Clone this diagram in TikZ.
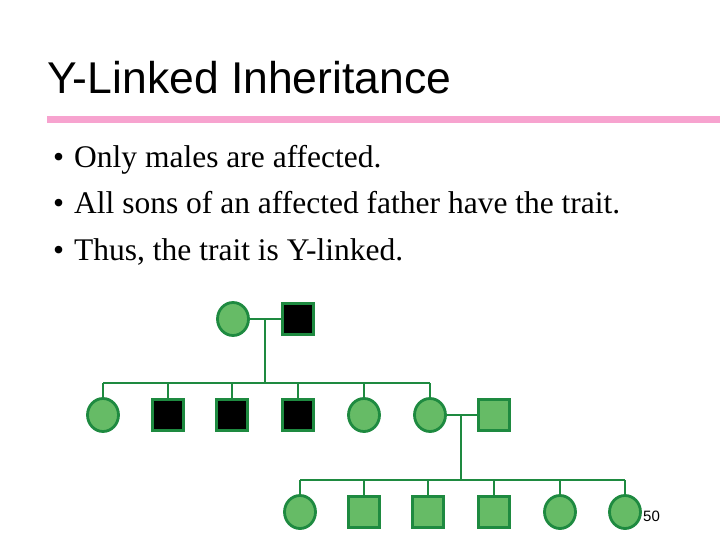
\documentclass[tikz,border=0pt]{standalone}
\usepackage{fontspec}
\setmainfont{Liberation Serif}
\newfontfamily\titlefont{Liberation Sans}
\usetikzlibrary{shapes.geometric}
\begin{document}
\begin{tikzpicture}[x=1pt,y=-1pt,
  every node/.style={inner sep=0pt},
  fem/.style={ellipse,draw=pedline,fill=pedfill,line width=2.8pt,minimum width=31pt,minimum height=33pt},
  mal/.style={rectangle,draw=pedline,fill=pedfill,line width=2.8pt,minimum size=31pt},
  aff/.style={rectangle,draw=pedline,fill=black,line width=2.8pt,minimum size=31pt},
  link/.style={draw=pedline,line width=2.6pt},
  bul/.style={anchor=base west,font=\fontsize{31.5}{34}\selectfont}]
\definecolor{pedfill}{HTML}{66BB66}
\definecolor{pedline}{HTML}{1E8A40}
\definecolor{pinkbar}{HTML}{F7A3CF}
\useasboundingbox (0,0) rectangle (720,540);
\node[anchor=base west,font=\titlefont\fontsize{44.5}{48}\selectfont] (title) at (47,94) {Y-Linked Inheritance};
\fill[pinkbar] (47,116) rectangle (720,123);
\node[bul] (b1) at (53,168) {•\hspace{10pt}Only males are affected.};
\node[bul] (b2) at (53,214) {•\hspace{10pt}All sons of an affected father have the trait.};
\node[bul] (b3) at (53,260) {•\hspace{10pt}Thus, the trait is Y-linked.};
% generation I
\node[fem] (m1) at (233,319) {};
\node[aff] (f1) at (298,319) {};
\coordinate (c1) at (265,319);
\coordinate (j1) at (265,383);
% generation II
\node[fem] (a1) at (103,415) {};
\node[aff] (a2) at (168,415) {};
\node[aff] (a3) at (232,415) {};
\node[aff] (a4) at (298,415) {};
\node[fem] (a5) at (364,415) {};
\node[fem] (a6) at (430,415) {};
\node[mal] (h2) at (494,415) {};
\coordinate (c2) at (461,415);
\coordinate (j2) at (461,480);
% generation III
\node[fem] (g1) at (300,512) {};
\node[mal] (g2) at (364,512) {};
\node[mal] (g3) at (428,512) {};
\node[mal] (g4) at (494,512) {};
\node[fem] (g5) at (560,512) {};
\node[fem] (g6) at (625,512) {};
\node[anchor=west,font=\fontsize{15}{17}\selectfont\titlefont] (pg) at (643,516) {50};
\draw[link] (m1) -- (f1);
\draw[link] (c1) -- (j1);
\draw[link] (a1.north |- j1) -- (a6.north |- j1);
\foreach \n in {a1,a2,a3,a4,a5,a6} \draw[link] (\n.north |- j1) -- (\n.north);
\draw[link] (a6) -- (h2);
\draw[link] (c2) -- (j2);
\draw[link] (g1.north |- j2) -- (g6.north |- j2);
\foreach \n in {g1,g2,g3,g4,g5,g6} \draw[link] (\n.north |- j2) -- (\n.north);
\end{tikzpicture}
\end{document}
